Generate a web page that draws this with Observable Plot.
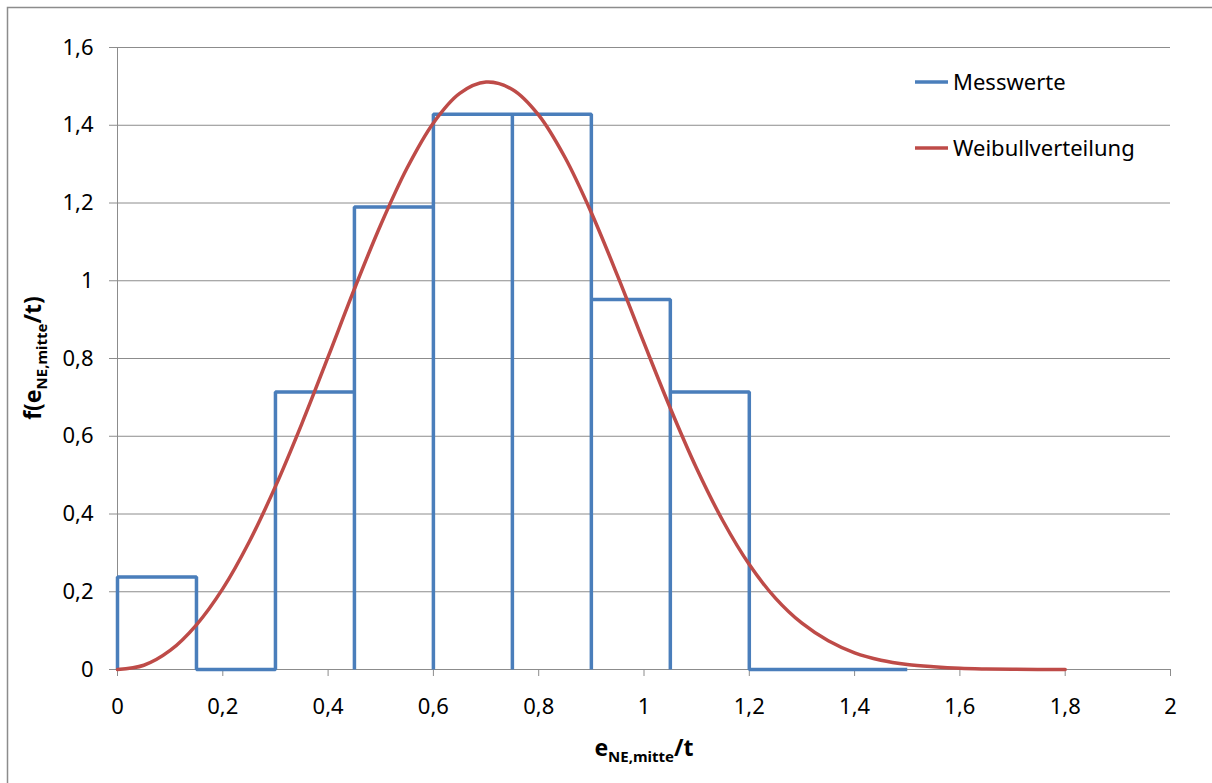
<!DOCTYPE html>
<html><head><meta charset="utf-8">
<script src="https://cdn.jsdelivr.net/npm/d3@7"></script>
<script src="https://cdn.jsdelivr.net/npm/@observablehq/plot@0.6"></script>
<style>body{margin:0;background:#fff;} svg{display:block}</style>
</head><body><div id="chart"></div>
<script>
// Histogram of measured values (bin edges and density heights)
const binEdges = [0, 0.15, 0.3, 0.45, 0.6, 0.75, 0.9, 1.05, 1.2, 1.35, 1.5];
const binHeights = [0.238, 0, 0.714, 1.19, 1.428, 1.428, 0.952, 0.714, 0, 0];
// Weibull density curve
const weibullX = [0,0.05,0.1,0.15,0.2,0.25,0.3,0.35,0.4,0.45,0.5,0.55,0.6,0.65,0.7,0.75,0.8,0.85,0.9,0.95,1.0,1.05,1.1,1.15,1.2,1.25,1.3,1.35,1.4,1.45,1.5,1.55,1.6,1.65,1.7,1.75,1.8];
const weibullY = [0,0.011,0.049,0.115,0.208,0.328,0.471,0.632,0.804,0.979,1.144,1.290,1.406,1.482,1.511,1.492,1.426,1.317,1.175,1.012,0.840,0.672,0.517,0.382,0.270,0.183,0.119,0.074,0.043,0.024,0.013,0.007,0.003,0.0014,0.0006,0.0002,0.0001];
const xTicks = [0, 0.2, 0.4, 0.6, 0.8, 1, 1.2, 1.4, 1.6, 1.8, 2];
const yTicks = [0, 0.2, 0.4, 0.6, 0.8, 1, 1.2, 1.4, 1.6];
const seriesNames = ["Messwerte", "Weibullverteilung"];
const seriesColors = ["#4a7ebb", "#be4b48"];

const histPts = [];
binHeights.forEach((h, i) => {
  const a = binEdges[i], b = binEdges[i + 1];
  histPts.push({x: a, y: 0}, {x: a, y: h}, {x: b, y: h}, {x: b, y: 0});
});
const weib = weibullX.map((x, i) => ({x, y: weibullY[i]}));
const fmt = d => String(d).replace(".", ",");
const font = "'Noto Sans', 'DejaVu Sans', sans-serif";
const gray = "#8c8c8c";

const chart = Plot.plot({
  width: 1212, height: 783,
  marginLeft: 117, marginRight: 42, marginTop: 47, marginBottom: 114,
  style: {fontFamily: font, fontSize: "22px", color: "#000", background: "#fff"},
  x: {domain: [0, 2]},
  y: {domain: [0, 1.6]},
  marks: [
    Plot.ruleY(yTicks.slice(1), {x1: 0, x2: 2, stroke: gray, strokeWidth: 1}),
    Plot.axisY(yTicks, {tickSize: 8, tickPadding: 16, stroke: gray, fill: "#000", tickFormat: fmt, fontSize: 22, label: null}),
    Plot.axisX(xTicks, {tickSize: 7, tickPadding: 22, stroke: gray, fill: "#000", tickFormat: fmt, fontSize: 22, label: null}),
    Plot.ruleX([0], {stroke: gray, strokeWidth: 1}),
    Plot.ruleY([0], {stroke: gray, strokeWidth: 1}),
    Plot.line(histPts, {x: "x", y: "y", stroke: seriesColors[0], strokeWidth: 3.5, strokeLinejoin: "miter", strokeLinecap: "butt"}),
    Plot.line(weib, {x: "x", y: "y", stroke: seriesColors[1], strokeWidth: 3.5, curve: "catmull-rom"})
  ]
});
document.getElementById("chart").appendChild(chart);

const svg = d3.select(chart);
// outer chart border (top and left visible)
svg.append("path").attr("d", "M7.5,783V7.5H1212").attr("fill", "none").attr("stroke", gray).attr("stroke-width", 1.5);

// x axis title
const xt = svg.append("text").attr("x", 644).attr("y", 756).attr("text-anchor", "middle")
  .attr("font-family", font).attr("font-weight", "bold").attr("font-size", 23).attr("fill", "#000");
xt.append("tspan").text("e");
xt.append("tspan").attr("font-size", 15).attr("dy", 6).text("NE,mitte");
xt.append("tspan").attr("dy", -6).text("/t");

// y axis title
const yt = svg.append("text").attr("transform", "translate(41,358) rotate(-90)").attr("text-anchor", "middle")
  .attr("font-family", font).attr("font-weight", "bold").attr("font-size", 23).attr("fill", "#000");
yt.append("tspan").text("f(e");
yt.append("tspan").attr("font-size", 15).attr("dy", 6).text("NE,mitte");
yt.append("tspan").attr("dy", -6).text("/t)");

// legend
const lg = svg.append("g").attr("text-anchor", "start");
seriesNames.forEach((name, i) => {
  const y = 82 + i * 66;
  lg.append("line").attr("x1", 915).attr("x2", 948).attr("y1", y).attr("y2", y)
    .attr("stroke", seriesColors[i]).attr("stroke-width", 3.5);
  lg.append("text").attr("x", 953).attr("y", y).attr("dy", "0.35em").attr("text-anchor", "start")
    .attr("font-family", font).attr("font-size", 22).attr("fill", "#000").text(name);
});
</script>
</body></html>
